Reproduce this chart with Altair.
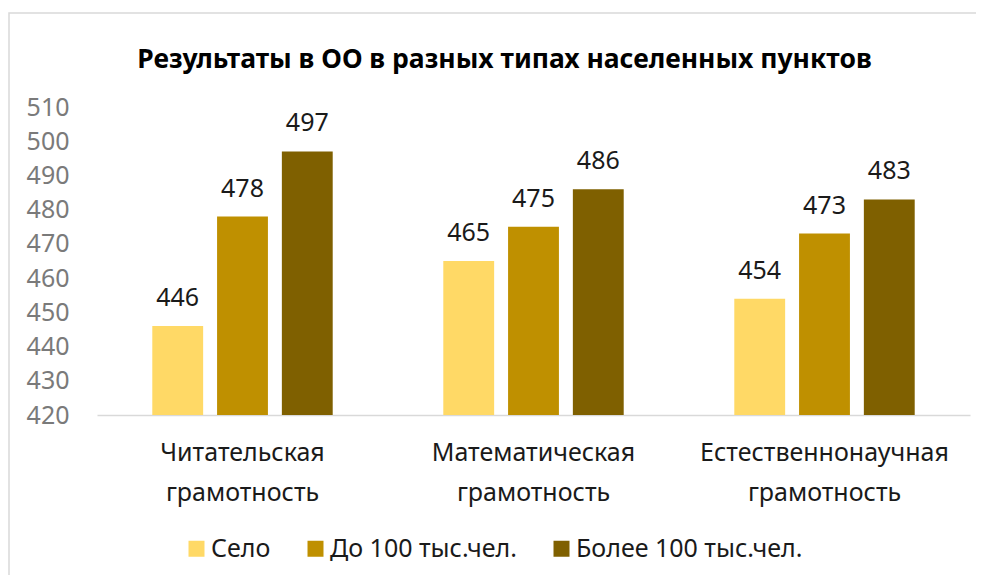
import altair as alt
import pandas as pd

categories = ["Читательская грамотность", "Математическая грамотность", "Естественнонаучная грамотность"]
series = ["Село", "До 100 тыс.чел.", "Более 100 тыс.чел."]
selo = [446, 465, 454]
do100 = [478, 475, 473]
bolee100 = [497, 486, 483]
colors = ["#FFD966", "#BF9000", "#7F6000"]
y_ticks = list(range(420, 511, 10))
title_text = "Результаты в ОО в разных типах населенных пунктов"

rows = []
for i, c in enumerate(categories):
    for s, vals in zip(series, [selo, do100, bolee100]):
        rows.append({"cat": c, "series": s, "value": vals[i]})
df = pd.DataFrame(rows)

FONT = "Noto Sans"

base = alt.Chart(df).encode(
    x=alt.X("cat:N", sort=categories,
            scale=alt.Scale(paddingInner=0.38, paddingOuter=0.19),
            axis=alt.Axis(title=None, labelAngle=0, labelExpr="split(datum.label, ' ')",
                          labelFont=FONT, labelFontSize=25, labelColor="#1a1a1a",
                          labelLineHeight=40, labelPadding=25, ticks=False, labelLimit=400,
                          domainColor="#d9d9d9", domainWidth=1.5)),
    xOffset=alt.XOffset("series:N", sort=series,
                        scale=alt.Scale(paddingInner=0.215, paddingOuter=0)),
    y=alt.Y("value:Q", scale=alt.Scale(domain=[420, 510], nice=False, zero=False),
            axis=alt.Axis(title=None, values=y_ticks, domain=False, ticks=False, grid=False,
                          labelFont=FONT, labelFontSize=25, labelColor="#7a7a7a",
                          labelPadding=28)),
)

bars = base.mark_bar(clip=True).encode(
    color=alt.Color("series:N", sort=series,
                    scale=alt.Scale(domain=series, range=colors),
                    legend=alt.Legend(title=None, orient="none", direction="horizontal",
                                      legendX=87, legendY=429, labelLimit=400,
                                      symbolType="square", symbolSize=256, symbolStrokeWidth=0,
                                      labelFont=FONT, labelFontSize=25, labelColor="#1a1a1a",
                                      labelOffset=2, columnPadding=32))
)

labels = base.mark_text(baseline="alphabetic", dy=-20, font=FONT, fontSize=25, color="#1a1a1a").encode(
    text=alt.Text("value:Q")
)

border = alt.Chart(alt.Data(values=[{"a": 1}])).mark_rect(
    filled=False, stroke="#d9d9d9", strokeWidth=1.5
).encode(x=alt.value(-88), x2=alt.value(1000), y=alt.value(-94), y2=alt.value(700))

chart = alt.layer(border, bars, labels).properties(
    width=873, height=308,
    autosize=alt.AutoSizeParams(type="none"),
    padding={"left": 89, "top": 99, "right": 6, "bottom": 160},
    title=alt.TitleParams(title_text, font=FONT, fontSize=26.5, fontWeight="bold",
                          color="#000000", anchor="middle", dx=-29, dy=89, offset=28),
).configure_view(strokeWidth=0)

chart.save("out.html", embed_options={"renderer": "svg", "actions": False})
